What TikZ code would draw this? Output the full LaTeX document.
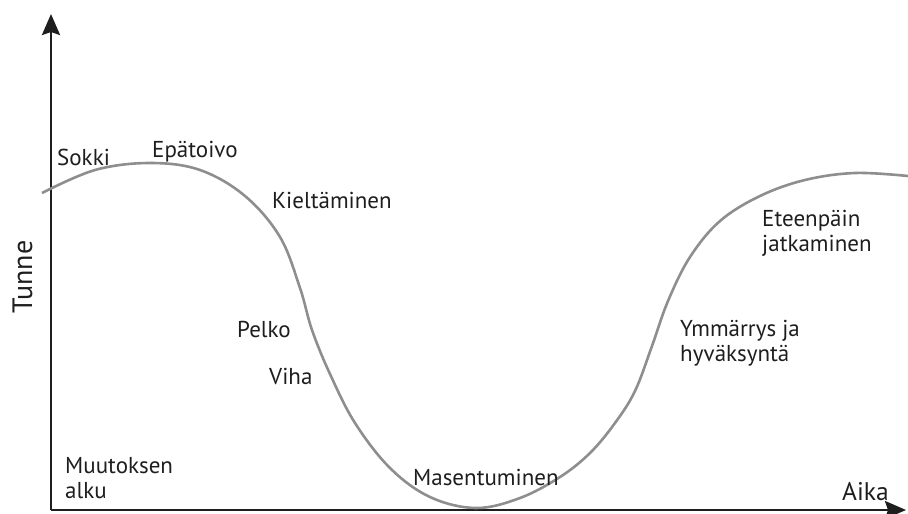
\documentclass[tikz,border=0pt]{standalone}
\usepackage{fontspec}
\setmainfont{PT Sans}
\usepackage{tikz}
\usetikzlibrary{arrows.meta}
\definecolor{ink}{HTML}{1E1E1E}
\definecolor{curvegray}{HTML}{8E8E8E}

\begin{document}
\begin{tikzpicture}[x=1pt,y=-1pt,font=\fontsize{23}{25}\selectfont,
    lbl/.style={anchor=base west,inner sep=0pt,text=ink},
    lbltwo/.style={anchor=north west,inner sep=0pt,text=ink,align=left},
    axis/.style={line width=2.6pt,ink,-{Stealth[length=21pt,width=18pt,inset=3pt]}}]
  \useasboundingbox (0,0) rectangle (908,514);
  % axes
  \coordinate (origin) at (51,510);
  \coordinate (ytip) at (51,14);
  \coordinate (xtip) at (906,510);
  \draw[axis] (origin) -- (ytip);
  \draw[axis] (origin) -- (xtip);
  % change curve
  \draw[line width=2.6pt,curvegray] plot[smooth,tension=0.6] coordinates {
    (42,193) (95,170) (150,163) (200,170) (245,196) (280,237) (300,288)
    (312,330) (330,374) (355,423) (390,468) (430,497) (476,508) (520,498)
    (560,477) (590,453) (615,423) (635,391) (652,346) (668,301) (690,257)
    (720,221) (760,196) (805,180) (855,173) (908,176)};
  % labels
  \node[lbl] (sokki) at (57,165) {Sokki};
  \node[lbl] (epatoivo) at (152,157) {Epätoivo};
  \node[lbl] (kieltaminen) at (272,208) {Kieltäminen};
  \node[lbl] (pelko) at (237,337) {Pelko};
  \node[lbl] (viha) at (269,384) {Viha};
  \node[lbl] (masentuminen) at (413,485) {Masentuminen};
  \node[lbltwo] (alku) at (65,457) {Muutoksen\\alku};
  \node[lbltwo] (ymmarrys) at (680,320) {Ymmärrys ja\\hyväksyntä};
  \node[lbltwo] (eteenpain) at (762,210) {Eteenpäin\\jatkaminen};
  \node[lbl,font=\fontsize{25.5}{28}\selectfont] (aika) at (842,500) {Aika};
  \node[anchor=base,inner sep=0pt,text=ink,rotate=90,font=\fontsize{28}{32}\selectfont] (tunne) at (32,277) {Tunne};
\end{tikzpicture}
\end{document}
